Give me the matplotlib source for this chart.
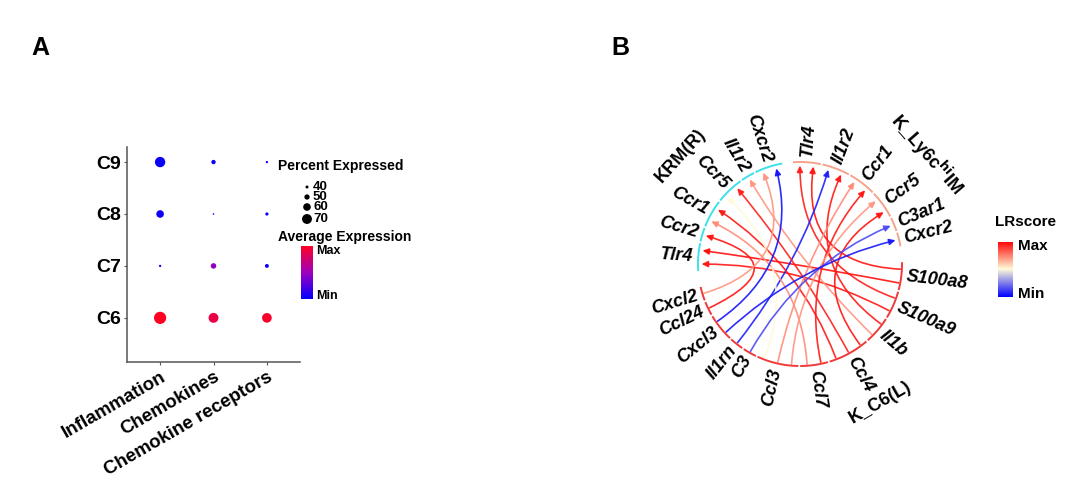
import numpy as np
import matplotlib.pyplot as plt
from matplotlib.colors import LinearSegmentedColormap
from matplotlib.patches import FancyArrowPatch
from matplotlib.path import Path

plt.rcParams['font.family'] = ['Liberation Sans', 'DejaVu Sans']

W, H = 1080, 488

# ---- panel A data (dot plot) ----
clusters = ["C6", "C7", "C8", "C9"]
categories = ["Inflammation", "Chemokines", "Chemokine receptors"]
pct_expr = [[80, 70, 69],   # C6
            [37, 51, 44],   # C7
            [60, 34, 41],   # C8
            [72, 46, 37]]   # C9
avg_expr = [[1.00, 0.88, 0.97],
            [0.05, 0.45, 0.06],
            [0.04, 0.03, 0.05],
            [0.03, 0.04, 0.02]]
size_breaks = [40, 50, 60, 70]

# ---- panel B data (ligand-receptor circle) ----
im_receptors = ["Tlr4", "Il1r2", "Ccr1", "Ccr5", "C3ar1", "Cxcr2"]
ligands = ["S100a8", "S100a9", "Il1b", "Ccl4", "Ccl7", "Ccl3", "C3",
           "Il1rn", "Cxcl3", "Ccl24", "Cxcl2"]
krm_receptors = ["Tlr4", "Ccr2", "Ccr1", "Ccr5", "Il1r2", "Cxcr2"]

link_ligand = ["S100a8", "S100a9", "S100a8", "S100a9", "Il1b", "Il1b", "Il1rn",
               "Ccl4", "Ccl4", "Ccl4", "Ccl7", "Ccl7", "Ccl3", "Ccl3", "Ccl3",
               "C3", "Cxcl3", "Cxcl3", "Ccl24", "Cxcl2"]
link_group = ["KRM", "KRM", "IM", "IM", "KRM", "IM", "IM",
              "KRM", "KRM", "IM", "KRM", "IM", "KRM", "IM", "IM",
              "IM", "KRM", "IM", "KRM", "KRM"]
link_receptor = ["Tlr4", "Tlr4", "Tlr4", "Tlr4", "Il1r2", "Il1r2", "Il1r2",
                 "Ccr5", "Ccr1", "Ccr5", "Ccr1", "Ccr1", "Ccr5", "Ccr1", "Ccr5",
                 "C3ar1", "Cxcr2", "Cxcr2", "Ccr2", "Cxcr2"]
link_score = [0.97, 0.95, 0.96, 0.94, 0.70, 0.95, 0.06,
              0.93, 0.95, 0.96, 0.72, 0.95, 0.50, 0.72, 0.70,
              0.15, 0.04, 0.05, 0.96, 0.70]

group_names = {"KRM": "KRM(R)", "IM": "K_Ly6c$^{\\bf hi}$IM", "C6": "K_C6(L)"}
arc_color = {"KRM": "#3ee0ea", "IM": "#f4a48c", "C6": "#f03a3a"}

cmap_a = LinearSegmentedColormap.from_list("avg", ["#0000ff", "#a000c0", "#ff0022"])
cmap_lr = LinearSegmentedColormap.from_list("lr", ["#0000ff", "#fffbd8", "#ff0000"])


def fx(x):
    return x / W


def fy(y):
    return 1 - y / H


def dot_area(p):
    d = max(0.23 * p - 6.2, 1.3)
    return (d * 0.72) ** 2


fig = plt.figure(figsize=(10.8, 4.88), dpi=100)

# ---------------- panel A ----------------
axA = fig.add_axes([fx(127), fy(362), fx(300) - fx(127), (362 - 147) / H])
xs, ys, ss, cs = [], [], [], []
for i, cl in enumerate(clusters):
    for j, cat in enumerate(categories):
        xs.append(j + 1)
        ys.append(i + 1)
        ss.append(dot_area(pct_expr[i][j]))
        cs.append(avg_expr[i][j])
axA.scatter(xs, ys, s=ss, c=cs, cmap=cmap_a, vmin=0, vmax=1, edgecolors='none')
axA.set_xlim(0.38, 3.62)
axA.set_ylim(0.15, 4.29)
axA.set_xticks(range(1, len(categories) + 1))
axA.set_xticklabels(categories, rotation=30, ha='right', rotation_mode='anchor',
                    fontsize=13.5, fontweight='bold')
axA.set_yticks(range(1, len(clusters) + 1))
axA.set_yticklabels(clusters, fontsize=14, fontweight='bold')
for side in ['top', 'right']:
    axA.spines[side].set_visible(False)
for side in ['left', 'bottom']:
    axA.spines[side].set_color('#555555')
    axA.spines[side].set_linewidth(1.1)
axA.tick_params(axis='both', length=2.5, color='#555555', pad=2)

# ---------------- panel B ----------------
R = 200 / 102
axB = fig.add_axes([fx(600), fy(464), 400 / W, 400 / H])
axB.set_xlim(-R, R)
axB.set_ylim(-R, R)
axB.set_aspect('equal')
axB.axis('off')

groups = [("IM", im_receptors), ("C6", ligands), ("KRM", krm_receptors)]
ends = {}
for i in range(len(link_ligand)):
    ends.setdefault(("C6", link_ligand[i]), []).append(i)
    ends.setdefault((link_group[i], link_receptor[i]), []).append(i)

gene_gap = 1.0
group_gaps = [9.0, 9.0, 6.0]
n_gene_gaps = sum(len(g) - 1 for _, g in groups)
unit = (360 - gene_gap * n_gene_gaps - sum(group_gaps)) / (2 * len(link_ligand))

span = {}
a = 94.0
for (grp, genes), gg in zip(groups, group_gaps):
    for j, gene in enumerate(genes):
        n = len(ends[(grp, gene)])
        span[(grp, gene)] = (a, a - n * unit)
        a -= n * unit
        if j < len(genes) - 1:
            a -= gene_gap
    a -= gg

center = {k: (s + e) / 2 for k, (s, e) in span.items()}

slot = {}
for key, idx in ends.items():
    def partner(i, key=key):
        lig = ("C6", link_ligand[i])
        return (link_group[i], link_receptor[i]) if key == lig else lig
    order = sorted(idx, key=lambda i: -((center[key] - center[partner(i)]) % 360))
    for k, i in enumerate(order):
        slot[(i, key)] = span[key][0] - (k + 0.5) * unit

# links
for i in range(len(link_ligand)):
    a0 = np.radians(slot[(i, ("C6", link_ligand[i]))])
    a1 = np.radians(slot[(i, (link_group[i], link_receptor[i]))])
    p0 = (0.985 * np.cos(a0), 0.985 * np.sin(a0))
    p1 = (0.965 * np.cos(a1), 0.965 * np.sin(a1))
    path = Path([p0, (0, 0), p1], [Path.MOVETO, Path.CURVE3, Path.CURVE3])
    arr = FancyArrowPatch(path=path, arrowstyle='-|>,head_length=0.45,head_width=0.22',
                          mutation_scale=8, color=cmap_lr(link_score[i]), lw=1.2,
                          alpha=0.9)
    axB.add_patch(arr)

# sector arcs and gene labels
for (grp, gene), (s, e) in span.items():
    t = np.radians(np.linspace(s, e, 30))
    axB.plot(np.cos(t), np.sin(t), color=arc_color[grp], lw=1.4, solid_capstyle='butt')
    c = center[(grp, gene)]
    cr = np.radians(c)
    if np.cos(cr) >= -1e-9:
        rot, ha = c, 'left'
    else:
        rot, ha = c + 180, 'right'
    axB.text(1.05 * np.cos(cr), 1.05 * np.sin(cr), gene, rotation=rot, ha=ha, va='center',
             rotation_mode='anchor', fontsize=13, fontweight='bold', fontstyle='italic')

# group labels
group_label_pos = {"KRM": (138, 1.58), "IM": (41, 1.65), "C6": (-60, 1.57)}
for grp, (phi, rr) in group_label_pos.items():
    pr = np.radians(phi)
    rot = phi - 90 if np.sin(pr) >= 0 else phi + 90
    axB.text(rr * np.cos(pr), rr * np.sin(pr), group_names[grp], rotation=rot,
             ha='center', va='center', rotation_mode='anchor', fontsize=13,
             fontweight='bold')

# colour bars
grad = np.linspace(0, 1, 256)[:, None]
cbA = fig.add_axes([fx(301), fy(299), 12 / W, 53 / H])
cbA.imshow(grad, aspect='auto', cmap=cmap_a, origin='lower')
cbA.set_xticks([])
cbA.set_yticks([])
for sp in cbA.spines.values():
    sp.set_visible(False)

cbB = fig.add_axes([fx(998), fy(297), 15 / W, 55 / H])
cbB.imshow(grad, aspect='auto', cmap=cmap_lr, origin='lower')
cbB.set_xticks([])
cbB.set_yticks([])
for sp in cbB.spines.values():
    sp.set_visible(False)

# overlay for legend text (pixel coords)
ov = fig.add_axes([0, 0, 1, 1])
ov.set_xlim(0, W)
ov.set_ylim(H, 0)
ov.axis('off')
ov.patch.set_alpha(0)

ov.text(40, 48, "A", fontsize=18, fontweight='bold', ha='center', va='center')
ov.text(620, 48, "B", fontsize=18, fontweight='bold', ha='center', va='center')

ov.text(278, 166, "Percent Expressed", fontsize=10, fontweight='bold', va='center')
leg_y = [187, 197, 207, 219]
for b, yy in zip(size_breaks, leg_y):
    ov.scatter([307], [yy], s=dot_area(b), c='black', edgecolors='none')
    ov.text(313, yy, str(b), fontsize=9.5, fontweight='bold', va='center')
ov.text(278, 237, "Average Expression", fontsize=10, fontweight='bold', va='center')
ov.text(316, 251, "Max", fontsize=9, fontweight='bold', va='center')
ov.text(316, 296, "Min", fontsize=9, fontweight='bold', va='center')

ov.text(995, 222, "LRscore", fontsize=11, fontweight='bold', va='center')
ov.text(1018, 246, "Max", fontsize=11, fontweight='bold', va='center')
ov.text(1018, 294, "Min", fontsize=11, fontweight='bold', va='center')

fig.savefig("out.png", dpi=100)
